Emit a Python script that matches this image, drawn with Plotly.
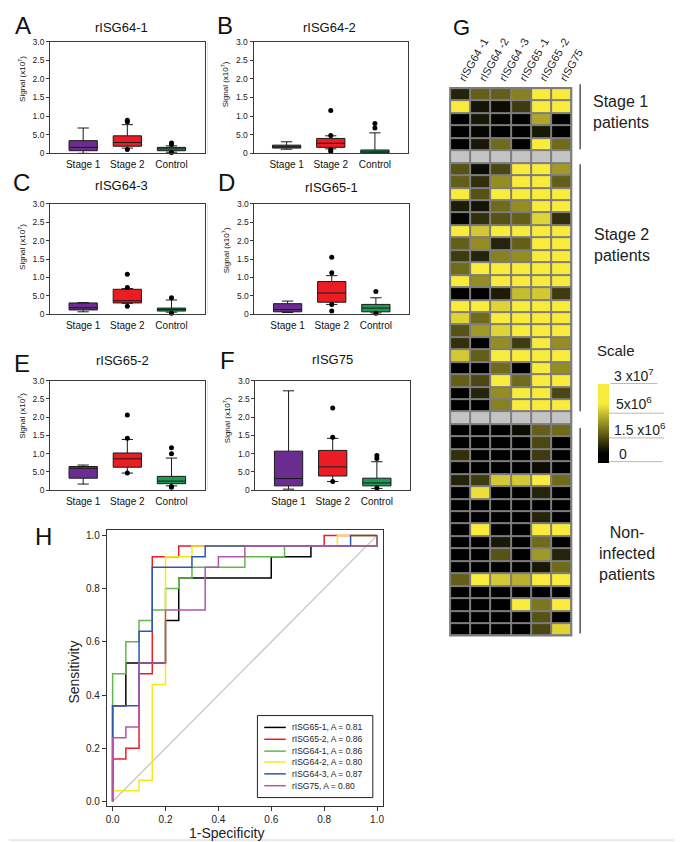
import numpy as np
import plotly.graph_objects as go

W, H = 682, 842
FONT = "Arial, Liberation Sans, sans-serif"

# ---------------- Box plot data (signal, x10^7) ----------------
groups = ["Stage 1", "Stage 2", "Control"]
panel_titles = ["rISG64-1", "rISG64-2", "rISG64-3", "rISG65-1", "rISG65-2", "rISG75"]
panel_letters = ["A", "B", "C", "D", "E", "F"]
ytick_vals = [0, 0.5, 1.0, 1.5, 2.0, 2.5, 3.0]
ytick_text = ["0", "5.0", "1.0", "1.5", "2.0", "2.5", "3.0"]

low_A = [0.00, 0.14, 0.03]
q1_A = [0.07, 0.19, 0.07]
med_A = [0.16, 0.29, 0.12]
q3_A = [0.34, 0.47, 0.16]
high_A = [0.68, 0.77, 0.20]
out_A = [[], [0.89, 0.85, 0.10], [0.28, 0.24, 0.02]]

low_B = [0.11, 0.12, 0.00]
q1_B = [0.14, 0.16, 0.01]
med_B = [0.18, 0.27, 0.04]
q3_B = [0.22, 0.40, 0.09]
high_B = [0.31, 0.47, 0.55]
out_B = [[], [1.15, 0.48, 0.10, 0.05], [0.80, 0.68]]

low_C = [0.07, 0.30, 0.06]
q1_C = [0.12, 0.31, 0.09]
med_C = [0.18, 0.37, 0.13]
q3_C = [0.31, 0.68, 0.17]
high_C = [0.32, 0.70, 0.39]
out_C = [[], [1.09, 0.73, 0.22], [0.45, 0.03]]

low_D = [0.05, 0.27, 0.04]
q1_D = [0.07, 0.33, 0.07]
med_D = [0.13, 0.58, 0.17]
q3_D = [0.29, 0.89, 0.27]
high_D = [0.36, 1.05, 0.45]
out_D = [[], [1.55, 1.13, 0.27, 0.09], [0.62, 0.03]]

low_E = [0.17, 0.47, 0.12]
q1_E = [0.33, 0.63, 0.18]
med_E = [0.60, 0.86, 0.25]
q3_E = [0.65, 1.02, 0.38]
high_E = [0.69, 1.39, 0.88]
out_E = [[], [2.06, 1.42, 0.47], [1.16, 1.00, 0.10, 0.08]]

low_F = [0.03, 0.24, 0.05]
q1_F = [0.12, 0.39, 0.12]
med_F = [0.32, 0.64, 0.20]
q3_F = [1.07, 1.09, 0.33]
high_F = [2.72, 1.42, 0.78]
out_F = [[], [2.25, 1.45, 0.24], [0.95, 0.87, 0.06]]

box_stats = [
    (low_A, q1_A, med_A, q3_A, high_A, out_A),
    (low_B, q1_B, med_B, q3_B, high_B, out_B),
    (low_C, q1_C, med_C, q3_C, high_C, out_C),
    (low_D, q1_D, med_D, q3_D, high_D, out_D),
    (low_E, q1_E, med_E, q3_E, high_E, out_E),
    (low_F, q1_F, med_F, q3_F, high_F, out_F),
]
group_colors = ["#6a2c8f", "#ec1c24", "#1f9a52"]

# ---------------- Heatmap data (relative intensity 0..1) ----------------
heat_columns = ["rISG64 -1", "rISG64 -2", "rISG64 -3", "rISG65 -1", "rISG65 -2", "rISG75"]
heat_stage1 = [
    [0.15, 0.40, 0.40, 0.55, 1.00, 1.00],
    [1.00, 0.08, 0.05, 0.25, 1.00, 1.00],
    [0.00, 0.10, 0.02, 0.00, 0.70, 0.00],
    [0.00, 0.02, 0.00, 0.00, 0.10, 0.00],
    [0.00, 0.10, 0.45, 0.00, 1.00, 0.45],
]
heat_stage2 = [
    [0.35, 0.05, 0.30, 1.00, 1.00, 0.65],
    [0.40, 0.20, 0.60, 1.00, 1.00, 0.40],
    [1.00, 0.35, 1.00, 1.00, 1.00, 1.00],
    [0.12, 0.08, 0.45, 0.60, 1.00, 1.00],
    [0.02, 0.20, 0.35, 0.40, 0.90, 0.20],
    [1.00, 0.85, 1.00, 1.00, 1.00, 1.00],
    [0.40, 0.60, 0.15, 0.40, 1.00, 1.00],
    [0.25, 0.15, 0.55, 0.60, 1.00, 1.00],
    [0.45, 1.00, 1.00, 1.00, 1.00, 1.00],
    [1.00, 0.60, 1.00, 1.00, 1.00, 1.00],
    [0.00, 0.00, 0.12, 0.80, 0.85, 0.25],
    [1.00, 1.00, 0.90, 1.00, 1.00, 1.00],
    [0.90, 0.45, 1.00, 1.00, 1.00, 1.00],
    [0.35, 0.65, 0.90, 1.00, 1.00, 1.00],
    [0.20, 0.00, 0.60, 0.25, 1.00, 0.60],
    [0.85, 0.40, 1.00, 1.00, 1.00, 1.00],
    [0.00, 0.00, 0.45, 0.00, 1.00, 0.60],
    [0.40, 0.30, 1.00, 0.45, 1.00, 1.00],
    [0.00, 0.15, 0.60, 1.00, 1.00, 0.30],
    [0.00, 0.00, 0.55, 1.00, 1.00, 1.00],
]
heat_control = [
    [0.00, 0.00, 0.00, 0.05, 0.40, 0.45],
    [0.00, 0.00, 0.00, 0.00, 0.30, 0.00],
    [0.20, 0.00, 0.00, 0.00, 0.25, 0.00],
    [0.00, 0.00, 0.00, 0.00, 0.05, 0.00],
    [0.15, 0.25, 0.85, 0.85, 1.00, 0.45],
    [0.00, 0.95, 0.00, 0.00, 0.15, 0.00],
    [0.00, 0.00, 0.00, 0.00, 0.00, 0.00],
    [0.00, 0.00, 0.00, 0.00, 0.15, 0.00],
    [0.00, 1.00, 0.00, 0.00, 1.00, 1.00],
    [0.00, 0.00, 0.10, 0.00, 0.45, 0.00],
    [0.00, 0.00, 0.35, 0.00, 0.65, 0.15],
    [0.00, 0.00, 0.00, 0.00, 0.10, 0.45],
    [0.40, 1.00, 0.85, 0.75, 1.00, 1.00],
    [0.00, 0.00, 0.00, 0.00, 0.00, 0.00],
    [0.00, 0.00, 0.00, 1.00, 0.50, 1.00],
    [0.00, 0.00, 0.00, 0.00, 0.35, 0.00],
    [0.00, 0.00, 0.00, 0.00, 0.30, 0.90],
]
scale_labels = ["3 x10<sup>7</sup>", "5x10<sup>6</sup>", "1.5 x10<sup>6</sup>", "0"]

# ---------------- ROC data ----------------
roc_labels = ["rISG65-1, A = 0.81", "rISG65-2, A = 0.86", "rISG64-1, A = 0.86",
              "rISG64-2, A = 0.80", "rISG64-3, A = 0.87", "rISG75, A = 0.80"]
roc_colors = ["#000000", "#ee1c24", "#62b84a", "#f7e81c", "#2f56b0", "#b256ac"]
fpr_65_1 = [0, 0, 0.05, 0.05, 0.2, 0.2, 0.25, 0.25, 0.6, 0.6, 0.75, 0.75, 1.0, 1.0]
tpr_65_1 = [0, 0.36, 0.36, 0.52, 0.52, 0.68, 0.68, 0.84, 0.84, 0.92, 0.92, 0.96, 0.96, 1.0]
fpr_65_2 = [0, 0, 0.05, 0.05, 0.1, 0.1, 0.15, 0.15, 0.25, 0.25, 0.8, 0.8, 1.0]
tpr_65_2 = [0, 0.16, 0.16, 0.2, 0.2, 0.48, 0.48, 0.92, 0.92, 0.96, 0.96, 1.0, 1.0]
fpr_64_1 = [0, 0, 0.05, 0.05, 0.1, 0.1, 0.15, 0.15, 0.2, 0.2, 0.25, 0.25, 0.3, 0.3, 0.5, 0.5, 0.65, 0.65, 1.0, 1.0]
tpr_64_1 = [0, 0.48, 0.48, 0.6, 0.6, 0.68, 0.68, 0.72, 0.72, 0.8, 0.8, 0.84, 0.84, 0.88, 0.88, 0.92, 0.92, 0.96, 0.96, 1.0]
fpr_64_2 = [0, 0, 0.1, 0.1, 0.15, 0.15, 0.2, 0.2, 0.3, 0.3, 0.85, 0.85, 1.0]
tpr_64_2 = [0, 0.04, 0.04, 0.08, 0.08, 0.44, 0.44, 0.92, 0.92, 0.96, 0.96, 1.0, 1.0]
fpr_64_3 = [0, 0, 0.1, 0.1, 0.15, 0.15, 0.3, 0.3, 0.35, 0.35, 0.9, 0.9, 1.0]
tpr_64_3 = [0, 0.36, 0.36, 0.64, 0.64, 0.88, 0.88, 0.92, 0.92, 0.96, 0.96, 1.0, 1.0]
fpr_75 = [0, 0, 0.05, 0.05, 0.1, 0.1, 0.2, 0.2, 0.35, 0.35, 0.4, 0.4, 0.5, 0.5, 1.0, 1.0]
tpr_75 = [0, 0.24, 0.24, 0.28, 0.28, 0.52, 0.52, 0.72, 0.72, 0.88, 0.88, 0.92, 0.92, 0.96, 0.96, 1.0]
roc_fpr = [fpr_65_1, fpr_65_2, fpr_64_1, fpr_64_2, fpr_64_3, fpr_75]
roc_tpr = [tpr_65_1, tpr_65_2, tpr_64_1, tpr_64_2, tpr_64_3, tpr_75]


# ---------------- helpers ----------------
def fx(p):
    return p / W


def fy(p):
    return 1 - p / H


fig = go.Figure()
annotations = []
shapes = []


def ann(text, x, y, size, **kw):
    d = dict(text=text, x=fx(x), y=fy(y), xref="paper", yref="paper", showarrow=False,
             font=dict(family=FONT, size=size, color=kw.pop("color", "#111")),
             xanchor=kw.pop("xanchor", "center"), yanchor=kw.pop("yanchor", "middle"))
    d.update(kw)
    annotations.append(d)


def hline(x0, x1, y, color, width):
    shapes.append(dict(type="line", xref="paper", yref="paper", x0=fx(x0), x1=fx(x1),
                       y0=fy(y), y1=fy(y), line=dict(color=color, width=width)))


def vline(x, y0, y1, color, width):
    shapes.append(dict(type="line", xref="paper", yref="paper", x0=fx(x), x1=fx(x),
                       y0=fy(y0), y1=fy(y1), line=dict(color=color, width=width)))


# panel geometry (pixel boxes: left, right, top, bottom)
panel_boxes = [
    (42, 200, 29, 142), (250, 408, 29, 142),
    (42, 200, 193, 305), (251, 409, 193, 305),
    (42, 200, 372, 483), (252, 410, 372, 483),
]
title_pos = [(115, 15), (328, 15), (115, 175), (330, 177), (116, 352), (331, 351)]
letter_pos = [(14, 13), (221, 13), (13, 172), (222, 172), (13, 355), (223, 352)]
ytitle_pos = [(13, 67), (221, 72), (13, 237), (222, 240), (13, 408), (223, 412)]

layout_axes = {}
for i, (stats, box) in enumerate(zip(box_stats, panel_boxes)):
    k = i + 1
    xa = "x" if k == 1 else f"x{k}"
    ya = "y" if k == 1 else f"y{k}"
    low, q1, med, q3, high, outs = stats
    for g, grp in enumerate(groups):
        fig.add_trace(go.Box(
            x=[grp], q1=[q1[g]], median=[med[g]], q3=[q3[g]],
            lowerfence=[low[g]], upperfence=[high[g]],
            fillcolor=group_colors[g], line=dict(color="#1a1a1a", width=1),
            width=0.64, whiskerwidth=0.4, boxpoints=False, showlegend=False,
            xaxis=xa, yaxis=ya, hoverinfo="skip"))
        if outs[g]:
            fig.add_trace(go.Scatter(
                x=[grp] * len(outs[g]), y=outs[g], mode="markers",
                marker=dict(color="black", size=5), showlegend=False,
                cliponaxis=False, xaxis=xa, yaxis=ya, hoverinfo="skip"))
    l, r, t, b = box
    layout_axes["xaxis" if k == 1 else f"xaxis{k}"] = dict(
        domain=[fx(l), fx(r)], anchor=ya, type="category", categoryorder="array",
        categoryarray=groups, range=[-0.75, 2.75], showline=True, mirror=True,
        linecolor="#3a3a3a", linewidth=1, ticks="", showgrid=False, zeroline=False,
        tickfont=dict(family=FONT, size=10, color="#111"), ticklabelstandoff=2)
    layout_axes["yaxis" if k == 1 else f"yaxis{k}"] = dict(
        domain=[fy(b), fy(t)], anchor=xa, range=[0, 3.0], tickvals=ytick_vals,
        ticktext=ytick_text, showline=True, mirror=True, linecolor="#3a3a3a",
        linewidth=1, ticks="outside", ticklen=3, tickcolor="#3a3a3a",
        showgrid=False, zeroline=False, tickfont=dict(family=FONT, size=8.5, color="#222"))
    ann(panel_titles[i], *title_pos[i], 13)
    ann(panel_letters[i], *letter_pos[i], 24)
    ann("Signal (x10<sup>7</sup>)", *ytitle_pos[i], 8, textangle=-90)

# faint separators of original figure
for (t, b) in [(29, 143), (193, 305), (372, 483)]:
    vline(203, t, b, "#e2e2e2", 1)
hline(0, W, 837, "#d4d4d4", 1)

# ---------------- Heatmap ----------------
rows = heat_stage1 + [None] + heat_stage2 + [None] + heat_control
nrows = len(rows)
z_data = []
z_sep = []
for row in rows:
    if row is None:
        z_data.append([None] * 6)
        z_sep.append([1] * 6)
    else:
        z_data.append([0.12 + 0.63 * v for v in row])
        z_sep.append([None] * 6)

hm_l, hm_r, hm_t, hm_b = 451, 575, 76, 630
shapes.append(dict(type="rect", xref="paper", yref="paper", layer="below",
                   x0=fx(hm_l - 1), x1=fx(hm_r + 1), y0=fy(hm_b + 1), y1=fy(hm_t - 1),
                   fillcolor="#7d7d7d", line=dict(width=0)))
colorscale = [[0, "#000000"], [0.12, "#000000"], [0.75, "#f8eb3c"], [1, "#f8eb3c"]]
fig.add_trace(go.Heatmap(
    z=z_data, x=list(range(6)), y=list(range(nrows)), zmin=0, zmax=1,
    colorscale=colorscale, xgap=2, ygap=2, xaxis="x7", yaxis="y7", hoverinfo="skip",
    colorbar=dict(x=fx(602), xanchor="left", y=fy(375), yanchor="top",
                  lenmode="pixels", len=79, thicknessmode="pixels", thickness=11,
                  xpad=0, ypad=0, outlinewidth=0, showticklabels=False, ticks="",
                  tickmode="array", tickvals=[])))
fig.add_trace(go.Heatmap(
    z=z_sep, x=list(range(6)), y=list(range(nrows)), zmin=0, zmax=1,
    colorscale=[[0, "#c4c4c4"], [1, "#c4c4c4"]], showscale=False, xgap=2, ygap=2,
    xaxis="x7", yaxis="y7", hoverinfo="skip"))
layout_axes["xaxis7"] = dict(
    domain=[fx(hm_l), fx(hm_r)], anchor="y7", range=[-0.5, 5.5], side="top",
    tickvals=list(range(6)), ticktext=heat_columns, tickangle=-60, ticks="",
    showgrid=False, zeroline=False, showline=False,
    tickfont=dict(family=FONT, size=11, color="#222"))
layout_axes["yaxis7"] = dict(
    domain=[fy(hm_b), fy(hm_t)], anchor="x7", range=[nrows - 0.5, -0.5],
    showticklabels=False, ticks="", showgrid=False, zeroline=False, showline=False)
ann("G", 463, 15, 22)

# brackets and group labels
vline(584, 72, 138, "#555555", 1.5)
vline(584, 153, 403, "#555555", 1.5)
vline(584, 420, 628, "#555555", 1.5)
ann("Stage 1<br>patients", 595, 100, 16, xanchor="left", align="left", color="#222")
ann("Stage 2<br>patients", 596, 235, 16, xanchor="left", align="left", color="#222")
ann("Non-<br>infected<br>patients", 632, 547, 16, align="center", color="#222")

# scale labels
ann("Scale", 599, 342, 15, xanchor="left", color="#222")
scale_y = [366, 395, 421, 446]
scale_x = [617, 619, 617, 622]
for lab, sx, sy in zip(scale_labels, scale_x, scale_y):
    ann(lab, sx, sy, 14, xanchor="left", color="#222")
hline(615, 663, 375, "#b8b8b8", 1)
hline(612, 670, 405, "#b8b8b8", 1)
hline(612, 670, 430, "#b8b8b8", 1)
hline(602, 668, 454, "#b8b8b8", 1)

# ---------------- ROC ----------------
fig.add_trace(go.Scatter(x=[0, 1], y=[0, 1], mode="lines", line=dict(color="#c6c6c6", width=1.3),
                         showlegend=False, xaxis="x8", yaxis="y8", hoverinfo="skip"))
for fpr, tpr, col in zip(roc_fpr, roc_tpr, roc_colors):
    fig.add_trace(go.Scatter(x=fpr, y=tpr, mode="lines", line=dict(color=col, width=1.5),
                             showlegend=False, xaxis="x8", yaxis="y8", hoverinfo="skip"))
roc_l, roc_r, roc_t, roc_b = 100, 382, 523, 803
layout_axes["xaxis8"] = dict(
    domain=[fx(roc_l), fx(roc_r)], anchor="y8", range=[-0.022, 1.021],
    tickvals=[0, 0.2, 0.4, 0.6, 0.8, 1.0], tickformat=".1f", ticks="outside", ticklen=4,
    tickcolor="#333", showline=True, mirror=True, linecolor="#333", linewidth=1,
    showgrid=False, zeroline=False, tickfont=dict(family=FONT, size=10, color="#222"))
layout_axes["yaxis8"] = dict(
    domain=[fy(roc_b), fy(roc_t)], anchor="x8", range=[-0.0186, 1.021],
    tickvals=[0, 0.2, 0.4, 0.6, 0.8, 1.0], tickformat=".1f", ticks="outside", ticklen=4,
    tickcolor="#333", showline=True, mirror=True, linecolor="#333", linewidth=1,
    showgrid=False, zeroline=False, tickfont=dict(family=FONT, size=10, color="#222"))
ann("H", 35, 530, 24)
ann("1-Specificity", 222, 830, 14, color="#222")
ann("Sensitivity", 67, 667, 14, textangle=-90, color="#222")

# manual legend
shapes.append(dict(type="rect", xref="paper", yref="paper", x0=fx(254), x1=fx(372),
                   y0=fy(794), y1=fy(711), line=dict(color="#222", width=1), fillcolor="white"))
leg_y = [723, 735, 747, 758, 770, 782]
for lab, col, ly in zip(roc_labels, roc_colors, leg_y):
    hline(261, 283, ly, col, 1.5)
    ann(lab, 287, ly, 8.5, xanchor="left", color="#222")

fig.update_layout(
    width=W, height=H, margin=dict(l=0, r=0, t=0, b=0),
    paper_bgcolor="white", plot_bgcolor="white", showlegend=False,
    annotations=annotations, shapes=shapes, font=dict(family=FONT),
    **layout_axes)

fig.write_html("out.html")
